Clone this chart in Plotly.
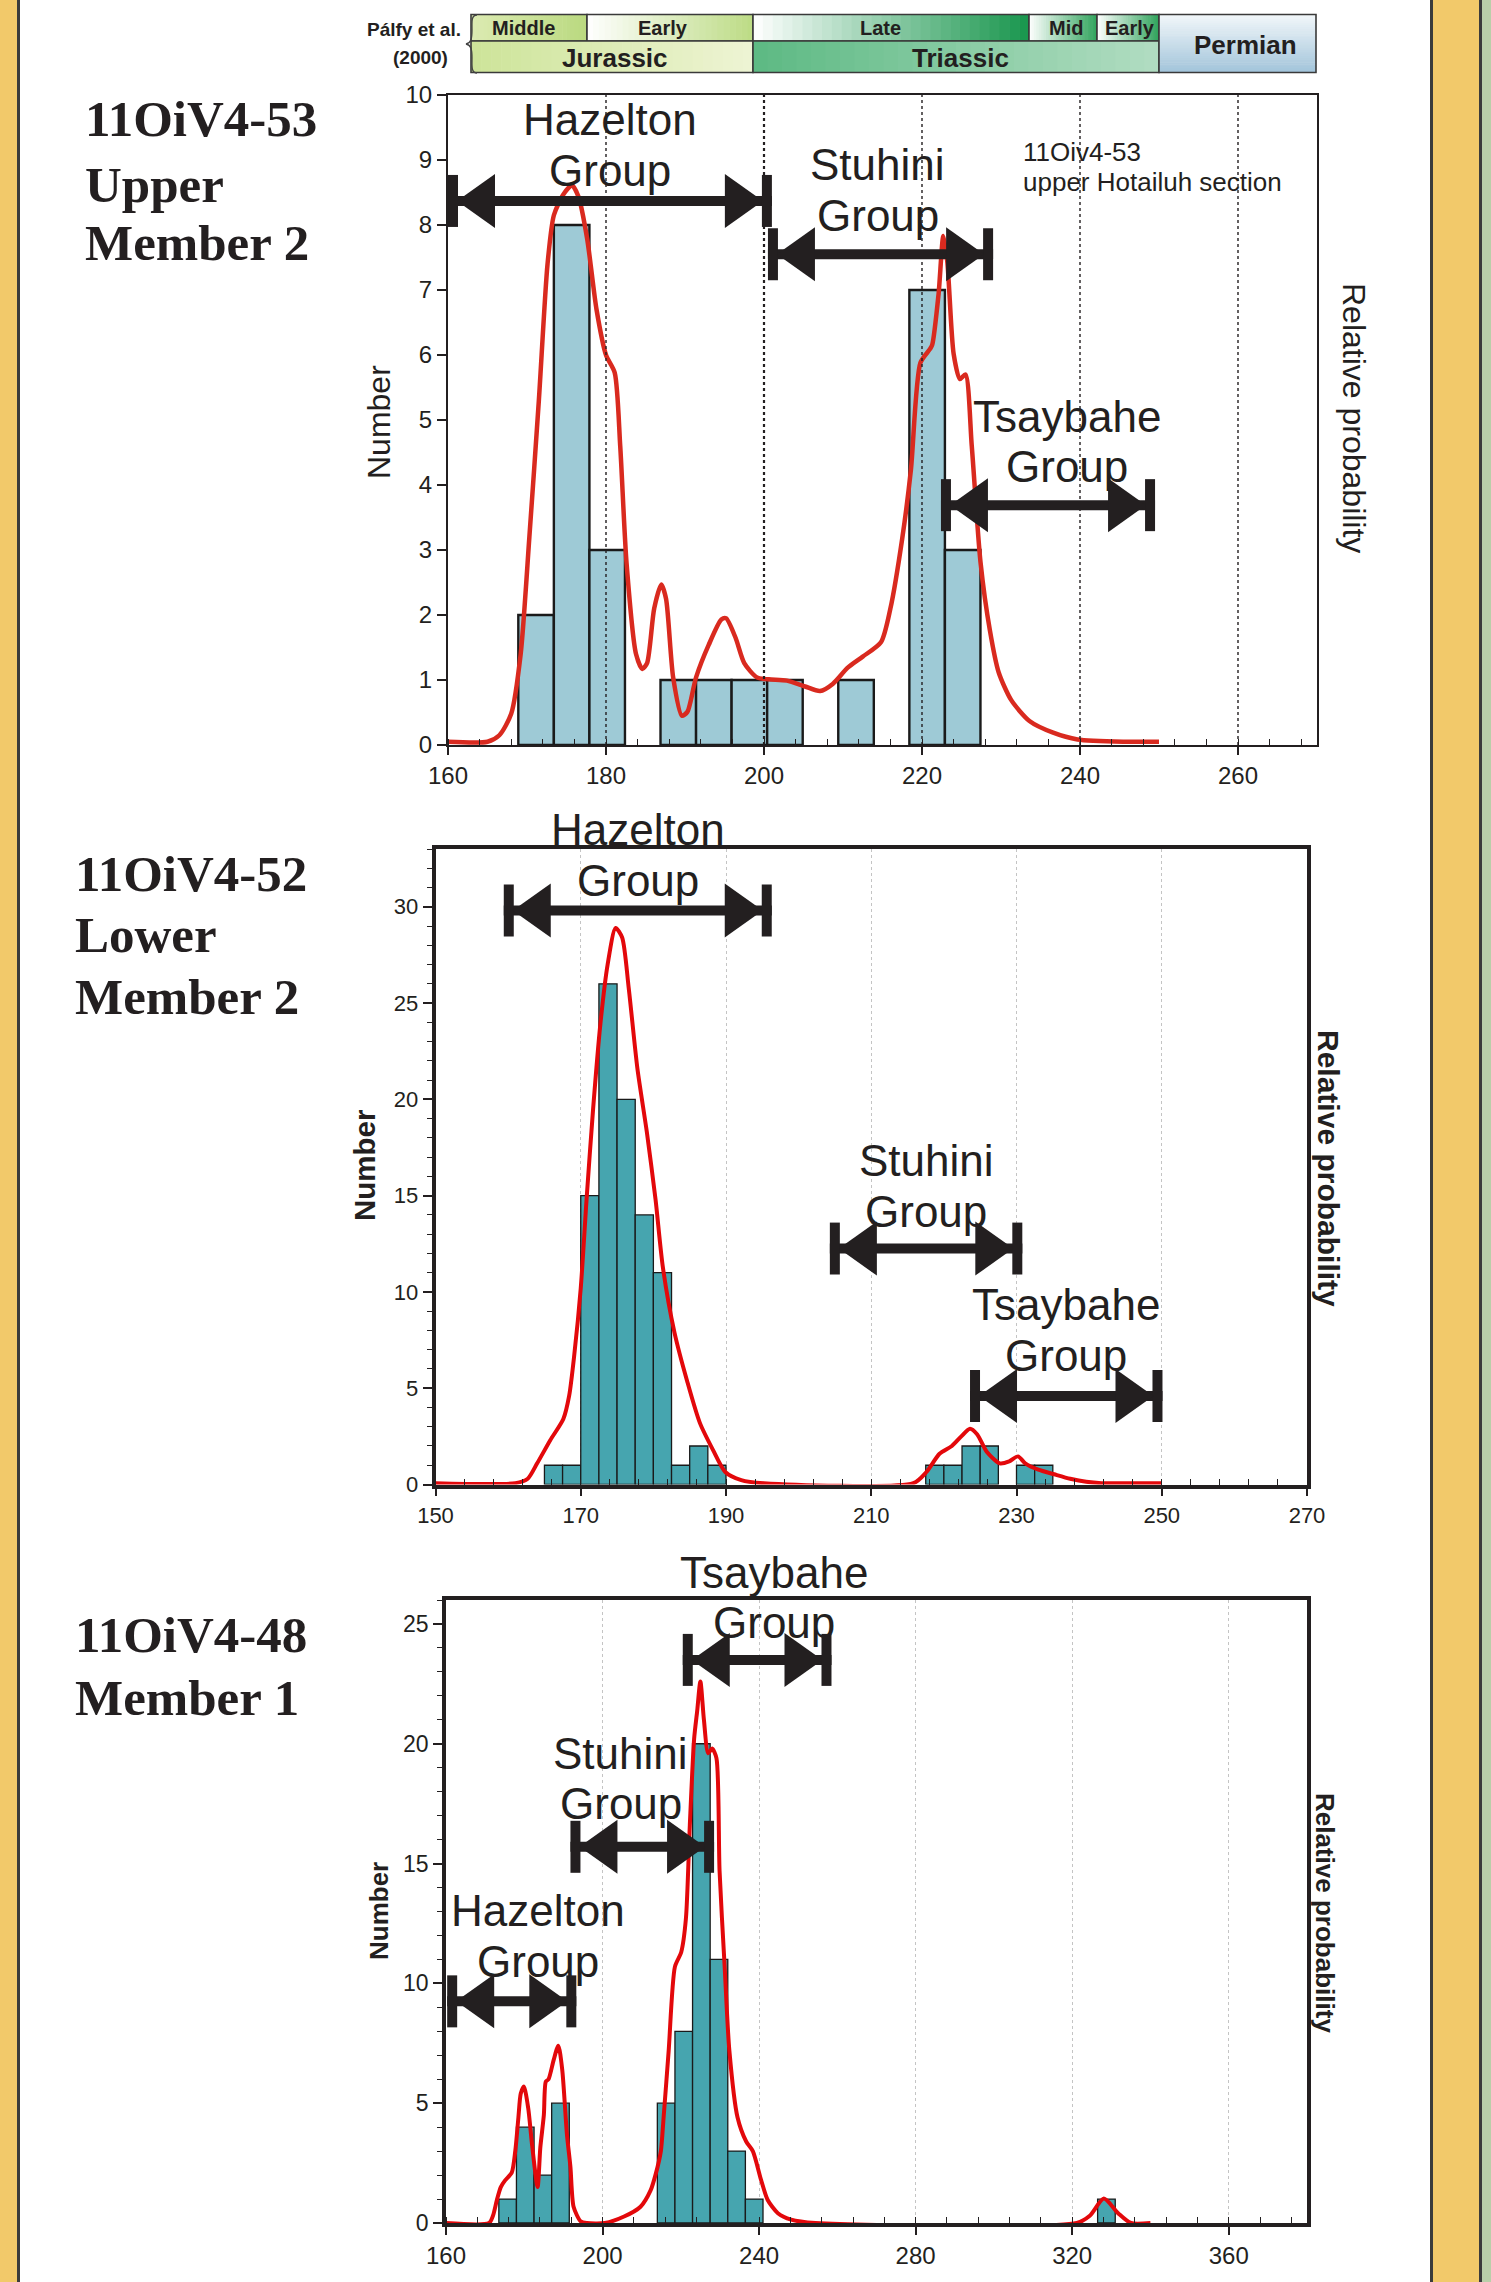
import plotly.graph_objects as go

W, H = 1491, 2282
def px(x): return x / W
def py(y): return 1 - y / H

# ---------------- DATA ----------------
# Panel 1: 11OiV4-53 upper Member 2
p1_bin_left = [168.9, 173.4, 177.9, 182.4, 186.9, 191.4, 195.9, 200.4, 204.9, 209.4, 213.9, 218.4, 222.9]
p1_counts   = [2, 8, 3, 0, 1, 1, 1, 1, 0, 1, 0, 7, 3]
p1_bin_w = 4.5
p1_pdp_age = [160, 165, 166.5, 168.0, 169.2, 170.3, 171.5, 172.6, 173.4, 174.6, 175.7, 176.5, 177.6, 178.8,
              180.0, 181.1, 181.8, 182.6, 183.8, 184.6, 185.2, 186.1, 187.0, 187.6, 188.5, 189.6, 190.3,
              191.4, 193.0, 194.6, 195.2, 196.4, 197.5, 199.1, 200.6, 202.9, 205.2, 207.1, 208.7, 210.6,
              212.5, 214.8, 216.0, 217.5, 218.6, 219.8, 221.0, 221.3, 222.1, 222.7, 223.2, 224.0, 224.8,
              225.5, 226.3, 227.4, 228.6, 229.7, 231.3, 233.6, 236.6, 239.7, 245.8, 250.0]
p1_pdp_val = [0.05, 0.05, 0.15, 0.48, 1.4, 3.2, 5.3, 7.4, 8.15, 8.47, 8.61, 8.44, 7.8, 6.7,
              6.0, 5.73, 4.6, 2.8, 1.4, 1.17, 1.26, 2.1, 2.47, 2.25, 1.04, 0.45, 0.51,
              1.04, 1.54, 1.93, 1.95, 1.65, 1.26, 1.04, 1.01, 0.99, 0.9, 0.83, 0.94, 1.19,
              1.36, 1.58, 2.1, 3.18, 4.24, 5.88, 6.09, 6.16, 6.94, 7.83, 7.44, 6.02, 5.63,
              5.7, 4.6, 2.82, 1.76, 1.12, 0.69, 0.37, 0.19, 0.085, 0.05, 0.05]
p1_guides = [180, 200, 220, 240, 260]

# Panel 2: 11OiV4-52 lower Member 2
p2_bin_left = [165, 167.5, 170, 172.5, 175, 177.5, 180, 182.5, 185, 187.5,
               217.5, 220, 222.5, 225, 227.5, 230, 232.5]
p2_counts   = [1, 1, 15, 26, 20, 14, 11, 1, 2, 1,
               1, 1, 2, 2, 0, 1, 1]
p2_bin_w = 2.5
p2_pdp_age = [150, 161, 162.7, 164.0, 165.8, 167.6, 168.4, 169.1, 170.0, 170.8, 171.7, 172.7, 173.7,
              174.8, 175.7, 176.6, 177.8, 179.1, 180.3, 181.3, 182.9, 184.7, 186.4, 188.2, 189.9,
              192.1, 195.2, 215.8, 217.6, 219.4, 221.1, 222.4, 223.6, 224.6, 225.9, 227.7, 229.0,
              230.2, 231.2, 233.0, 235.2, 237.4, 239.6, 241.7, 250]
p2_pdp_val = [0.07, 0.07, 0.3, 1.1, 2.3, 3.4, 4.6, 6.7, 10.2, 14.8, 19.5, 23.9, 27.0,
              28.9, 28.4, 25.8, 21.6, 18.3, 14.8, 11.3, 7.9, 5.3, 3.2, 1.8, 0.65,
              0.23, 0.07, 0.07, 0.65, 1.6, 2.0, 2.5, 2.9, 2.6, 1.7, 1.1, 1.2,
              1.46, 1.1, 0.77, 0.53, 0.3, 0.14, 0.07, 0.07]

# Panel 3: 11OiV4-48 Member 1
p3_bin_left = [173.5, 178, 182.5, 187, 214, 218.5, 223, 227.5, 232, 236.5, 326.5]
p3_counts   = [1, 4, 2, 5, 5, 8, 20, 11, 3, 1, 1]
p3_bin_w = 4.5
p3_pdp_age = [160, 171.0, 172.0, 173.0, 174.0, 175.1, 176.8, 177.7, 178.5, 179.1, 179.9, 181.0, 182.0,
              183.4, 184.1, 185.0, 185.5, 186.2, 187.5, 188.7, 189.7, 190.9, 191.8, 192.6, 194.4,
              196, 200.6, 205.5, 209.7, 212.3, 213.6, 214.9, 215.6, 216.9, 218.5, 220.1, 221.3,
              222.3, 223.4, 224.2, 225.0, 225.9, 227.0, 228.0, 229.1, 229.9, 231.2, 232.4, 234.5,
              236.7, 238.4, 240.5, 242.2, 244.8, 248.2, 254.4, 321.2, 324.5, 328.1, 331.8, 335, 340]
p3_pdp_val = [0, 0, 0.3, 0.96, 1.5, 1.78, 2.1, 3.0, 4.4, 5.4, 5.7, 4.8, 3.25,
              1.5, 3.15, 4.5, 5.9, 6.0, 6.8, 7.4, 6.4, 3.7, 2.33, 0.68, 0.07,
              0, 0, 0.27, 0.68, 1.37, 2.05, 3.0, 4.4, 7.2, 10.7, 11.3, 12.7,
              16.6, 20.2, 21.4, 22.6, 21.0, 19.6, 19.8, 19.4, 14.7, 10.7, 7.2, 4.4,
              3.4, 3.0, 1.8, 0.96, 0.41, 0.14, 0, 0, 0.3, 1.02, 0.4, 0, 0]

# Group age ranges (arrows) per panel: name, start, end, arrow level, label x, label y (two lines)
p1_groups = [("Hazelton", 160.0, 201.0, 8.37, 180.5, 9.62, 8.84),
             ("Stuhini", 200.5, 229.0, 7.55, 214.4, 8.93, 8.15),
             ("Tsaybahe", 222.4, 249.5, 3.69, 238.4, 5.05, 4.29)]
p2_groups = [("Hazelton", 159.4, 196.3, 29.8, 177.9, 34.0, 31.36),
             ("Stuhini", 204.3, 230.8, 12.25, 217.6, 16.8, 14.2),
             ("Tsaybahe", 223.6, 250.1, 4.6, 236.8, 9.36, 6.71)]
p3_groups = [("Tsaybahe", 220.5, 258.5, 23.5, 243.9, 27.15, 25.08),
             ("Stuhini", 191.8, 228.5, 15.7, 204.7, 19.6, 17.5),
             ("Hazelton", 160.3, 193.3, 9.25, 183.4, 13.05, 10.9)]

# Time scale (Palfy et al. 2000)
ts_upper = ["Middle", "Early", "Late", "Mid", "Early"]
ts_lower = ["Jurassic", "Triassic"]

# ---------------- STYLE ----------------
INK = "#231F20"
RED1 = "#D92A1F"
RED2 = "#E3080B"
BAR1 = "#9ECAD6"
BAR2 = "#46A5AF"
SANS = "Liberation Sans, Arial, sans-serif"
SERIF = "Liberation Serif, Times New Roman, serif"

dom = {1: dict(x=(448, 1317), y=(95, 745)),
       2: dict(x=(435.5, 1307), y=(849, 1484.5)),
       3: dict(x=(446, 1307), y=(1600, 2223))}
yr_of = {1: (0, 10), 2: (0, 33), 3: (0, 26)}

fig = go.Figure()
shapes = []
annos = []

def axn(i, kind):
    return kind if i == 1 else f"{kind}{i}"

def add_hist(i, left, counts, w, color, lw):
    xs = [l + w / 2 for l, c in zip(left, counts) if c > 0]
    ys = [c for c in counts if c > 0]
    fig.add_trace(go.Bar(x=xs, y=ys, width=[w] * len(xs), marker=dict(color=color, line=dict(color="#1a1a1a", width=lw)),
                         xaxis=axn(i, "x"), yaxis=axn(i, "y"), showlegend=False))

def add_pdp(i, xs, ys, color, width, shape):
    fig.add_trace(go.Scatter(x=xs, y=ys, mode="lines", line=dict(color=color, width=width, shape=shape, smoothing=0.7),
                             xaxis=axn(i, "x"), yaxis=axn(i, "y"), showlegend=False))

add_hist(1, p1_bin_left, p1_counts, p1_bin_w, BAR1, 2.4)
add_pdp(1, p1_pdp_age, p1_pdp_val, RED1, 4.5, "spline")
add_hist(2, p2_bin_left, p2_counts, p2_bin_w, BAR2, 1.3)
add_pdp(2, p2_pdp_age, p2_pdp_val, RED2, 4, "spline")
add_hist(3, p3_bin_left, p3_counts, p3_bin_w, BAR2, 1.3)
add_pdp(3, p3_pdp_age, p3_pdp_val, RED2, 4, "spline")

# Panel 1 dashed guides
for g in p1_guides:
    shapes.append(dict(type="line", xref="x", yref="y domain", x0=g, x1=g, y0=0, y1=1,
                       line=dict(color=INK, width=2.2 if g == 200 else 1.4, dash="3px,3px"), layer="above"))

def arrows(i, groups, fsize=44):
    xr, yr = axn(i, "x"), axn(i, "y")
    r0, r1 = yr_of[i]
    for name, a, b, lvl, tx, ty1, ty2 in groups:
        shapes.append(dict(type="line", xref=xr, yref=yr, x0=a, x1=b, y0=lvl, y1=lvl,
                           line=dict(color=INK, width=10), layer="above"))
        for anc, sgn in ((a, 1), (b, -1)):
            shapes.append(dict(type="rect", xref=xr, yref=yr, xsizemode="pixel", ysizemode="pixel",
                               xanchor=anc, yanchor=lvl, x0=0, x1=sgn * 10, y0=-26, y1=26,
                               fillcolor=INK, line=dict(width=0), layer="above"))
            shapes.append(dict(type="path", xref=xr, yref=yr, xsizemode="pixel", ysizemode="pixel",
                               xanchor=anc, yanchor=lvl,
                               path=f"M {sgn*9},0 L {sgn*47},27 L {sgn*47},-27 Z",
                               fillcolor=INK, line=dict(width=0), layer="above"))
        for txt, ty in ((name, ty1), ("Group", ty2)):
            annos.append(dict(xref=xr, yref=yr + " domain", x=tx, y=(ty - r0) / (r1 - r0), text=txt,
                              xanchor="center", yanchor="middle",
                              showarrow=False, font=dict(family=SANS, size=fsize, color=INK)))

arrows(1, p1_groups)
arrows(2, p2_groups)
arrows(3, p3_groups)

for txt, ty in (("11Oiv4-53", 9.13), ("upper Hotailuh section", 8.66)):
    annos.append(dict(xref="x", yref="y", x=232.5, y=ty, text=txt, showarrow=False, xanchor="left",
                      yanchor="middle", font=dict(family=SANS, size=26, color=INK)))

# ---------------- AXES ----------------
def xaxis(i, rng, dt, t0, mdt, lw, fs):
    d = dom[i]
    return dict(domain=[px(d["x"][0]), px(d["x"][1])], anchor=axn(i, "y"), range=rng,
                tick0=t0, dtick=dt, ticks="outside", ticklen=8, tickwidth=1.6, tickcolor=INK,
                showline=True, mirror=True, linecolor=INK, linewidth=lw, zeroline=False,
                showgrid=(i != 1), gridcolor="#c4c4c4", griddash="dot", gridwidth=1,
                minor=dict(dtick=mdt, tick0=t0, ticks="inside", ticklen=6, tickwidth=1.4, tickcolor=INK, showgrid=False),
                tickfont=dict(family=SANS, size=fs, color=INK), automargin=False, fixedrange=True)

def yaxis(i, dt, mdt, lw, fs):
    d = dom[i]
    ax = dict(domain=[py(d["y"][1]), py(d["y"][0])], anchor=axn(i, "x"), range=list(yr_of[i]),
              tick0=0, dtick=dt, ticks="outside", ticklen=9, tickwidth=1.6, tickcolor=INK,
              showline=True, mirror=True, linecolor=INK, linewidth=lw, zeroline=False, showgrid=False,
              tickfont=dict(family=SANS, size=fs, color=INK), automargin=False, fixedrange=True)
    if mdt:
        ax["minor"] = dict(dtick=mdt, tick0=0, ticks="outside", ticklen=5, tickwidth=1.2, tickcolor=INK, showgrid=False)
    return ax

layout = dict(
    width=W, height=H, margin=dict(l=0, r=0, t=0, b=0),
    paper_bgcolor="white", plot_bgcolor="white", barmode="overlay", showlegend=False,
    xaxis=xaxis(1, [160, 270], 20, 160, 4, 2.2, 24),
    yaxis=yaxis(1, 1, None, 2.2, 24),
    xaxis2=xaxis(2, [150, 270], 20, 150, 4, 3.5, 22),
    yaxis2=yaxis(2, 5, 1, 3.5, 22),
    xaxis3=xaxis(3, [160, 380], 40, 160, 8, 3.5, 24),
    yaxis3=yaxis(3, 5, 1, 3.5, 23),
)

def ptext(x, y, text, size, angle=0, family=SANS, xanchor="center", yanchor="middle"):
    annos.append(dict(xref="paper", yref="paper", x=px(x), y=py(y), text=text, showarrow=False,
                      textangle=angle, xanchor=xanchor, yanchor=yanchor,
                      font=dict(family=family, size=size, color=INK)))

# Axis titles
ptext(379, 422, "Number", 32, -90)
ptext(1354, 418, "Relative probability", 32, 90)
ptext(364, 1165, "<b>Number</b>", 29.5, -90)
ptext(1329, 1168, "<b>Relative probability</b>", 30, 90)
ptext(379, 1911, "<b>Number</b>", 26, -90)
ptext(1325, 1913, "<b>Relative probability</b>", 26, 90)

# Sample labels (left)
for txt, y in (("11OiV4-53", 119), ("Upper", 185), ("Member 2", 243)):
    ptext(83, y, f"<b>{txt}</b>", 51, family=SERIF, xanchor="left")
for txt, y in (("11OiV4-52", 874), ("Lower", 935), ("Member 2", 997)):
    ptext(73, y, f"<b>{txt}</b>", 51, family=SERIF, xanchor="left")
for txt, y in (("11OiV4-48", 1635), ("Member 1", 1698)):
    ptext(73, y, f"<b>{txt}</b>", 51, family=SERIF, xanchor="left")

# ---------------- PAGE BORDERS ----------------
def prect(x0, x1, y0, y1, fill, lw=0, lc=INK):
    shapes.append(dict(type="rect", xref="paper", yref="paper", x0=px(x0), x1=px(x1), y0=py(y1), y1=py(y0),
                       fillcolor=fill, line=dict(width=lw, color=lc), layer="above"))

prect(0, 17, 0, H, "#F2C96A")
prect(17, 20, 0, H, "#3b3b3b")
prect(1430, 1433, 0, H, "#3b3b3b")
prect(1433, 1479, 0, H, "#F2C96A")
prect(1479, 1482, 0, H, "#3b3b3b")
prect(1482, W, 0, H, "#B9CFA9")

# ---------------- TIME SCALE ----------------
def hex2rgb(h):
    h = h.lstrip("#")
    return [int(h[k:k + 2], 16) for k in (0, 2, 4)]

def mix(c0, c1, t):
    a, b = hex2rgb(c0), hex2rgb(c1)
    return "rgb(%d,%d,%d)" % tuple(round(a[k] + (b[k] - a[k]) * t) for k in range(3))

def grad_box(x0, x1, y0, y1, c0, c1, vertical=False, n=28):
    for k in range(n):
        t = (k + 0.5) / n
        if vertical:
            sx0, sx1 = x0, x1
            sy0 = y0 + (y1 - y0) * k / n
            sy1 = y0 + (y1 - y0) * (k + 1) / n + 0.6
        else:
            sx0 = x0 + (x1 - x0) * k / n
            sx1 = x0 + (x1 - x0) * (k + 1) / n + 0.6
            sy0, sy1 = y0, y1
        prect(sx0, min(sx1, x1), sy0, min(sy1, y1), mix(c0, c1, t))
    shapes.append(dict(type="rect", xref="paper", yref="paper", x0=px(x0), x1=px(x1), y0=py(y1), y1=py(y0),
                       fillcolor="rgba(0,0,0,0)", line=dict(width=1.6, color="#3a3a3a"), layer="above"))

TT, TM, TB = 14.5, 41, 72.5
ub = [471, 587, 753, 1029, 1097, 1159]
ucols = [("#DCEBB2", "#BAD980"), ("#FFFFFF", "#BCDB84"), ("#FFFFFF", "#17954C"),
         ("#FFFFFF", "#2FA35B"), ("#FFFFFF", "#2FA35B")]
for k in range(5):
    grad_box(ub[k], ub[k + 1], TT, TM, *ucols[k])
grad_box(471, 753, TM, TB, "#CDE499", "#EEF4D4")
grad_box(753, 1159, TM, TB, "#5CB983", "#B2DDC2")
grad_box(1159, 1316, TT, TB, "#F2F7FA", "#A2C4DA", vertical=True)

ucent = [523, 663, 880, 1066, 1130]
for lab, cx in zip(ts_upper, ucent):
    ptext(cx, 28, f"<b>{lab}</b>", 20)
for lab, cx in zip(ts_lower, [615, 960]):
    ptext(cx, 57.5, f"<b>{lab}</b>", 26)
ptext(1245, 45, "<b>Permian</b>", 26)
ptext(463, 29, "<b>Pálfy et al.</b>", 19, xanchor="right")
ptext(450, 57, "<b>(2000)</b>", 19, xanchor="right")

brace = "M %f,%f C %f,%f %f,%f %f,%f C %f,%f %f,%f %f,%f C %f,%f %f,%f %f,%f C %f,%f %f,%f %f,%f" % (
    px(477), py(15),
    px(471), py(15), px(472), py(22), px(472), py(30),
    px(472), py(39), px(471), py(43), px(466), py(44),
    px(471), py(45), px(472), py(49), px(472), py(58),
    px(472), py(66), px(471), py(73), px(477), py(73))
shapes.append(dict(type="path", xref="paper", yref="paper", path=brace,
                   line=dict(color="#444444", width=1.3), layer="above"))

layout["shapes"] = shapes
layout["annotations"] = annos
fig.update_layout(**layout)
fig.write_html("out.html", config={"displayModeBar": False},
               post_script="document.body.style.margin='0px';document.body.style.overflow='hidden';")
